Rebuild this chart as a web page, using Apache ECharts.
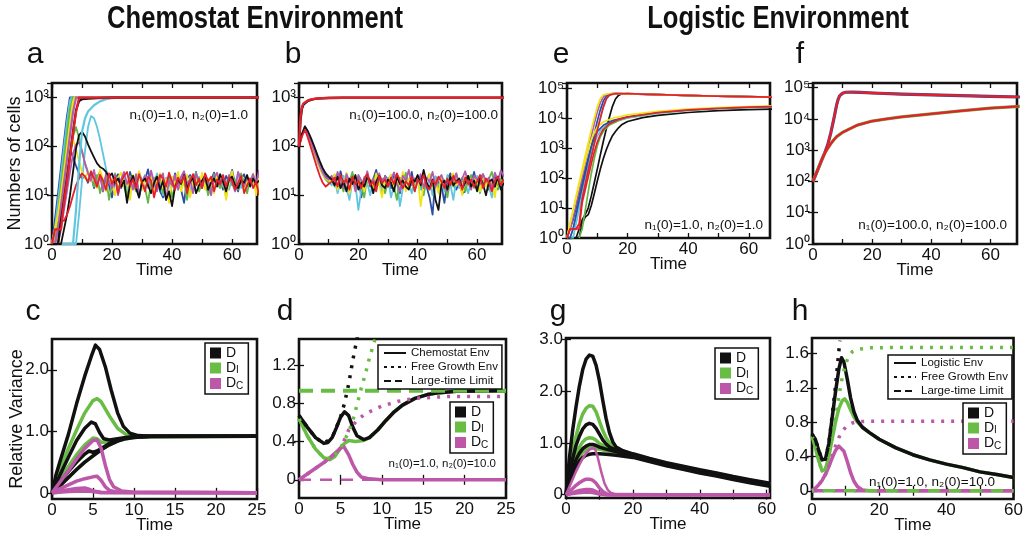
<!DOCTYPE html>
<html>
<head>
<meta charset="utf-8">
<script src="https://cdn.jsdelivr.net/npm/echarts@6/dist/echarts.min.js"></script>
<style>
  html, body { margin: 0; padding: 0; background: #fff; }
  #chart { width: 1026px; height: 535px; }
</style>
</head>
<body>
<div id="chart"></div>
<script>
// ---- panel a : chemostat, n1(0)=n2(0)=1, one value per time unit ----
const aBlueNoise = [1,2,4,10,30,70,90,60,40,28,22,
  25,18,28,14,20,31,12,24,16,9,22,27,14,19,12,30,18,25,10,16,21,34,15,19,26,12,9,18,24,15,28,20,13,7,22,26,18,30,14,17,24,11,20,29,16,21,13,25,19,33,17,12,22,27,15,20,24,18,21];
const aGreenNoise = [1,1,2,5,12,30,70,160,250,150,80,45,30,
  22,15,26,11,19,24,8,17,28,13,21,16,9,25,18,12,30,20,14,7,19,23,15,27,11,18,22,9,16,26,13,20,8,24,17,29,12,19,23,10,15,27,18,14,21,9,25,16,20,13,28,17,11,22,19,15,24];
const aYellowNoise = [1,1,3,8,20,50,110,140,90,50,30,22,
  30,19,24,14,33,21,12,27,17,10,23,29,15,20,8,26,18,31,13,22,16,25,11,19,28,14,21,7,24,17,30,12,20,26,9,18,23,15,29,13,22,19,11,27,16,24,8,20,31,14,18,25,12,21,17,28,10,23];
const aMagentaNoise = [1,1,1,2,5,12,30,70,110,120,80,45,28,
  20,33,16,24,12,28,19,14,26,10,21,30,17,23,13,27,9,19,25,15,32,18,12,22,28,8,20,16,26,13,24,31,17,21,11,27,19,14,25,20,10,23,29,16,22,13,26,18,12,30,21,15,24,19,27,17,33];
const aBlackNoise = [1,1,1,1,2,4,10,30,90,170,200,160,110,80,60,45,38,35,
  30,24,28,18,22,15,20,7,17,25,14,9,19,22,16,11,18,24,13,20,8,12,6,15,21,17,26,14,19,23,11,16,20,25,13,18,22,15,27,19,12,21,24,16,14,20,18,26,15,22,17,20];
const aRedNoise = [1,1,1,3,3,4,6,10,16,22,28,
  24,19,31,22,15,26,20,13,28,17,23,11,19,25,30,16,21,14,27,18,12,24,20,9,17,26,22,15,29,19,13,23,18,25,11,20,27,16,22,14,28,19,24,12,21,17,26,15,23,20,13,18,25,11,16,22,14,19,10];
const aCyanNoise = [1,1,1,1,1,1,1,1,1,4,20,80,250,420,380,250,140,70,35,20,15,
  22,13,18,27,11,20,16,24,9,19,26,14,21,12,28,17,10,23,19,15,25,13,20,29,16,11,22,18,24,14,27,19,12,21,17,25,15,20,13,23,18,28,14,22,16,19,24,12,20];

const aBlueSat = [[0,1],[1,3],[2,10],[3,35],[4,120],[5,400],[6,1000],[70,1000]];
const aCyanSat = [[0,1],[1,2],[2,7],[3,25],[4,90],[5,300],[6,850],[6.5,1000],[70,1000]];
const aGreenSat = [[0,1],[1,1],[2,4],[3,14],[4,50],[5,170],[6,550],[7,1000],[70,1000]];
const aYellowSat = [[0,1],[1,2],[2,4],[3,10],[4,30],[5,90],[6,280],[7,800],[7.5,1000],[70,1000]];
const aMagentaSat = [[0,1],[1,1],[2,2],[3,6],[4,18],[5,55],[6,170],[7,500],[8,1000],[70,1000]];
const aBlackSat = [[0,1],[1,1],[2,1],[3,3],[4,8],[5,22],[6,65],[7,200],[8,550],[9,850],[10,930],[12,960],[15,980],[20,1000],[70,1000]];
const aRedSat = [[0,1],[1,2],[2,2],[3,2],[3.5,4],[4,7],[5,20],[6,60],[7,180],[8,500],[9,1000],[70,1000]];
const aCyanSlow = [[7,1],[8,5],[9,40],[10,200],[11,380],[12,520],[14,700],[16,840],[18,930],[20,980],[22,1000],[70,1000]];

// ---- panel b : chemostat, n1(0)=n2(0)=100 ----
const bBlueNoise = [100,180,260,200,140,95,65,45,32,25,22,
  20,26,14,31,18,22,12,27,16,24,9,19,28,15,21,33,17,12,25,20,14,29,18,11,23,26,16,30,13,19,22,27,15,9,4,24,18,16,7,21,28,17,13,19,11,12,25,18,30,15,22,27,17,13,20,24,16,21,19];
const bCyanNoise = [100,170,240,180,120,80,55,38,28,22,19,
  16,22,11,19,25,14,8,20,17,5,13,24,18,10,21,15,27,12,19,23,9,16,20,6,14,25,18,11,22,17,13,28,16,20,10,24,15,19,12,26,17,8,21,14,23,18,11,20,16,25,13,19,22,15,9,18,24,14,20];
const bGreenNoise = [100,165,230,170,115,78,52,36,27,21,18,
  23,15,28,18,12,24,19,30,14,21,17,9,25,20,13,27,16,22,11,19,26,15,8,23,18,29,14,20,12,24,17,10,22,27,16,19,13,25,18,9,21,15,28,17,23,12,20,26,14,19,11,24,17,22,30,16,13,21,18];
const bYellowNoise = [100,170,235,175,118,80,54,37,27,22,20,
  19,27,13,22,16,29,11,20,25,15,18,12,24,21,14,28,17,9,23,19,26,13,20,16,30,12,22,18,14,25,6,17,21,27,15,19,11,24,18,13,22,28,16,20,10,25,17,14,23,19,12,27,15,21,18,9,24,16,20];
const bMagentaNoise = [100,175,245,185,125,85,58,40,29,23,21,
  25,18,30,21,14,27,19,23,12,26,20,16,31,17,22,13,28,19,24,15,21,29,17,12,25,20,33,16,22,18,27,14,23,19,30,15,21,26,17,12,24,20,28,16,22,31,18,13,25,21,17,27,19,23,14,29,20,32,24];
const bBlackNoise = [100,180,255,205,150,105,72,50,36,28,24,
  21,16,24,14,19,12,22,17,26,13,18,15,23,20,11,19,25,16,14,21,18,12,24,17,20,15,13,22,19,26,16,33,18,14,21,8,5,17,20,13,24,16,19,22,14,18,25,15,20,12,23,17,10,19,21,15,24,13,18];
const bRedNoise = [100,160,220,150,95,60,38,25,18,15,17,
  19,23,15,26,18,21,13,24,17,20,14,22,27,16,19,12,25,18,21,15,23,17,28,20,14,19,16,24,12,21,18,26,15,13,20,17,24,19,14,22,16,25,18,20,13,23,17,21,15,19,26,14,22,18,12,20,24,16,21];
const bBlackSat = [[0,100],[0.5,350],[1,600],[1.5,720],[2,790],[3,860],[4,905],[5,935],[6,955],[8,975],[10,988],[15,1000],[70,1000]];
const bRedSat = [[0,100],[0.5,400],[1,650],[1.5,760],[2,820],[3,880],[4,920],[5,945],[6,960],[8,980],[10,990],[15,1000],[70,1000]];

// ---- panel e : logistic, n1(0)=n2(0)=1 ----
const eUpYellow = [[0,1],[1,3],[2,8],[3,25],[4,70],[5,200],[6,550],[7,1500],[8,4000],[9,10000],[10,24000],[11,45000],[12,60000],[14,67000],[18,66000],[30,61000],[45,56000],[70,50000]];
const eUpMagenta = [[0,1],[1,2],[2,5],[3,14],[4,40],[5,110],[6,320],[7,900],[8,2500],[9,6500],[10,16000],[11,33000],[12,52000],[13,62000],[15,67000],[20,65000],[30,61000],[45,56000],[70,50000]];
const eUpRed = [[0,1],[1,2],[2,2],[3,2],[4,3],[5,20],[6,60],[7,180],[8,500],[9,1400],[10,4000],[11,10000],[12,24000],[13,45000],[14,60000],[16,67000],[20,66000],[30,61000],[45,56000],[70,50500]];
const eUpBlue = [[0,1],[1,1],[2,2],[3,6],[4,18],[5,50],[6,140],[7,400],[8,1100],[9,3000],[10,8000],[11,19000],[12,38000],[13,56000],[15,66000],[20,65000],[30,61000],[45,56000],[70,50000]];
const eUpCyan = [[1,1],[2,1],[3,3],[4,9],[5,25],[6,70],[7,200],[8,550],[9,1500],[10,4000],[11,10000],[12,24000],[13,44000],[14,58000],[16,66000],[20,65000],[30,61000],[45,56000],[70,50000]];
const eUpBlack = [[3,1],[4,2],[5,4],[6,6],[7,10],[8,25],[9,70],[10,200],[11,600],[12,1700],[13,4500],[14,11000],[15,25000],[16,44000],[17,58000],[18,64000],[20,66000],[30,61000],[45,56000],[70,50000]];
const eLowYellow = [[0,1],[1,3],[2,8],[3,22],[4,60],[5,150],[6,380],[7,900],[8,1900],[9,3300],[10,5000],[12,7500],[15,10000],[20,13000],[30,17000],[40,20000],[50,22500],[60,24500],[70,26000]];
const eLowRed = [[0,1],[1,2],[2,2],[3,2],[4,2],[5,15],[6,40],[7,110],[8,300],[9,750],[10,1600],[11,2800],[12,4200],[14,6500],[17,9000],[20,11000],[30,15500],[40,19000],[50,21500],[60,23500],[70,25000]];
const eLowCyan = [[1,1],[2,2],[3,5],[4,14],[5,40],[6,100],[7,260],[8,650],[9,1400],[10,2500],[11,3800],[13,6000],[16,8500],[20,10500],[30,15000],[40,18500],[50,21000],[60,23000],[70,24500]];
const eLowGreen = [[4,1],[5,2],[6,8],[7,35],[8,140],[9,450],[10,1200],[11,2400],[12,3700],[14,6000],[17,8300],[20,10300],[30,14800],[40,18300],[50,20800],[60,22800],[70,24300]];
const eLowBlue = [[0,1],[1,2],[2,4],[3,10],[4,28],[5,75],[6,190],[7,480],[8,1100],[9,2200],[10,3600],[12,5800],[15,8400],[20,11200],[30,15500],[40,19000],[50,21500],[60,23500],[70,25000]];
const eLowBlack = [[4,1],[5,3],[6,5],[7,6],[8,12],[9,30],[10,80],[11,200],[12,450],[13,900],[14,1600],[15,2600],[16,3600],[17,4800],[18,6000],[20,7800],[25,10500],[30,12500],[40,15500],[50,18000],[60,19500],[70,20500]];

// ---- panel f : logistic, n1(0)=n2(0)=100 ----
const fUpper = [[0,100],[1,170],[2,290],[3,500],[4,830],[5,1500],[6,3500],[7,9500],[8,28000],[8.5,42000],[9,54000],[10,66000],[11,71000],[13,72000],[16,70000],[20,67000],[30,62000],[40,58000],[50,55000],[60,52000],[70,50000]];
const fLower = [[0,100],[1,170],[2,290],[3,500],[4,800],[5,1150],[6,1600],[7,2100],[8,2700],[10,3700],[12,4600],[15,6300],[20,8500],[25,10000],[30,11500],[40,14500],[50,18000],[60,22000],[70,25000]];

// ---- panel c : relative variance, chemostat ----
const cD1 = [[0,0],[0.5,0.3],[1,0.52],[2,0.95],[3,1.45],[4,1.9],[4.8,2.22],[5.3,2.4],[5.8,2.33],[6.5,2.05],[7.2,1.68],[8,1.3],[8.7,1.08],[9.5,0.97],[10.5,0.93],[12,0.92],[25,0.92]];
const cD2 = [[0,0],[1,0.3],[2,0.58],[3,0.85],[4,1.05],[4.8,1.15],[5.3,1.12],[5.8,0.98],[6.3,0.88],[7,0.86],[8,0.88],[9,0.9],[10,0.91],[25,0.92]];
const cD3 = [[0,0],[1,0.18],[2,0.35],[3,0.5],[4,0.63],[4.5,0.68],[5,0.66],[5.5,0.68],[6,0.72],[7,0.8],[8,0.86],[9,0.89],[10,0.91],[12,0.92],[25,0.92]];
const cD4 = [[0,0],[1,0.12],[2,0.25],[3,0.38],[4,0.5],[5,0.6],[6,0.7],[7,0.78],[8,0.84],[9,0.88],[10,0.9],[12,0.92],[25,0.92]];
const cI1 = [[0,0],[1,0.4],[2,0.72],[3,1.02],[4,1.3],[5,1.5],[5.5,1.53],[6,1.48],[7,1.25],[8,1.05],[9,0.95],[10,0.92],[25,0.92]];
const cI2 = [[0,0],[1,0.22],[2,0.43],[3,0.62],[4,0.78],[5,0.89],[5.5,0.88],[6,0.82],[7,0.83],[8,0.87],[10,0.91],[25,0.92]];
const cC1 = [[0,0],[1,0.18],[2,0.36],[3,0.55],[4,0.72],[5,0.85],[5.5,0.86],[6,0.72],[6.5,0.45],[7,0.22],[7.5,0.1],[8.5,0.03],[10,0.01],[25,0]];
const cC2 = [[0,0],[1,0.07],[2,0.13],[3,0.19],[4,0.23],[5,0.26],[5.5,0.27],[6,0.2],[6.5,0.1],[7,0.04],[8,0.01],[25,0]];
const cC3 = [[0,0],[1,0.03],[2,0.05],[3,0.07],[4,0.08],[4.5,0.06],[5,0.03],[6,0.01],[25,0]];
const cC4 = [[0,0],[2,0.02],[4,0.03],[5,0.02],[6,0],[25,0]];

// ---- panel d : chemostat vs free growth, n1(0)=1, n2(0)=10 ----
const dD = [[0,0.67],[1,0.55],[2,0.44],[3,0.38],[3.5,0.39],[4,0.44],[4.5,0.54],[5,0.65],[5.5,0.71],[6,0.67],[6.5,0.55],[7,0.46],[7.8,0.42],[8.5,0.44],[9.5,0.52],[10.5,0.62],[11.5,0.71],[12.5,0.78],[14,0.85],[15.5,0.89],[17,0.91],[19,0.925],[25,0.93]];
const dI = [[0,0.64],[1,0.46],[2,0.32],[3,0.23],[3.7,0.21],[4.3,0.24],[5,0.33],[5.5,0.38],[6,0.41],[6.8,0.4],[7.8,0.41],[8.5,0.44],[9.5,0.52],[10.5,0.62],[11.5,0.71],[12.5,0.78],[14,0.85],[15.5,0.89],[17,0.91],[19,0.925],[25,0.93]];
const dC = [[0,0],[1,0.06],[2,0.12],[3,0.18],[4,0.25],[5,0.33],[5.4,0.35],[6,0.26],[6.5,0.16],[7,0.08],[7.5,0.03],[8.5,0.01],[10,0],[25,0]];
const dDfree = [[0,0.67],[1,0.55],[2,0.44],[3,0.38],[4,0.44],[5,0.65],[5.5,0.8],[6,1.0],[6.5,1.25],[7,1.47],[7.3,1.6]];
const dIfree = [[0,0.64],[1,0.46],[2,0.32],[3,0.23],[4,0.22],[5,0.33],[6,0.5],[6.5,0.62],[7,0.78],[7.5,0.95],[8,1.1],[8.5,1.27],[9.2,1.47],[9.5,1.55]];
const dCfree = [[0,0],[1,0.06],[2,0.12],[3,0.18],[4,0.25],[5,0.33],[5.5,0.42],[6,0.52],[7,0.62],[8,0.69],[9,0.73],[10,0.77],[12,0.82],[14,0.85],[16,0.86],[18,0.87],[25,0.87]];
const dLimitI = [[0,0.93],[25,0.93]];
const dLimitC = [[0,0],[25,0]];

// ---- panel g : relative variance, logistic ----
const gD1 = [[0,0],[1,0.7],[2,1.25],[3,1.7],[4,2.1],[5,2.42],[6,2.62],[7,2.7],[8,2.68],[9,2.5],[10,2.2],[11,1.82],[12,1.47],[13,1.2],[14,1.02],[15,0.92],[17,0.85],[20,0.79],[25,0.7],[30,0.62],[35,0.55],[40,0.48],[45,0.42],[50,0.35],[55,0.29],[61,0.22]];
const gD2 = [[0,0],[1,0.4],[2,0.7],[3,0.95],[4,1.13],[5,1.27],[6,1.35],[7,1.38],[8,1.36],[9,1.28],[10,1.17],[11,1.06],[12,0.98],[13,0.92],[15,0.86],[17,0.82],[20,0.77],[25,0.68],[30,0.6],[35,0.53],[40,0.46],[45,0.4],[50,0.33],[55,0.27],[61,0.2]];
const gD3 = [[0,0],[1,0.28],[2,0.5],[3,0.68],[4,0.8],[5,0.89],[6,0.94],[7,0.97],[8,0.97],[9,0.95],[10,0.92],[12,0.88],[15,0.83],[17,0.8],[20,0.75],[25,0.66],[30,0.58],[35,0.51],[40,0.44],[45,0.38],[50,0.31],[55,0.25],[61,0.18]];
const gD4 = [[0,0],[1,0.22],[2,0.4],[3,0.55],[4,0.65],[5,0.72],[6,0.76],[7,0.78],[8,0.79],[10,0.79],[12,0.78],[15,0.76],[20,0.72],[25,0.64],[30,0.56],[35,0.49],[40,0.42],[45,0.36],[50,0.29],[55,0.23],[61,0.16]];
const gI1 = [[0,0],[1,0.45],[2,0.82],[3,1.13],[4,1.38],[5,1.56],[6,1.67],[7,1.72],[8,1.71],[9,1.6],[10,1.42],[11,1.24],[12,1.1],[13,1.0],[14,0.94],[15,0.9],[17,0.84],[20,0.78],[25,0.69],[30,0.61],[35,0.54],[40,0.47],[45,0.41],[50,0.34],[55,0.28],[61,0.21]];
const gI2 = [[0,0],[1,0.32],[2,0.57],[3,0.77],[4,0.92],[5,1.02],[6,1.08],[7,1.1],[8,1.09],[9,1.05],[10,0.99],[12,0.92],[15,0.85],[20,0.76],[25,0.67],[30,0.59],[35,0.52],[40,0.45],[45,0.39],[50,0.32],[55,0.26],[61,0.19]];
const gI3 = [[0,0],[1,0.25],[2,0.45],[3,0.62],[4,0.74],[5,0.82],[6,0.87],[7,0.9],[8,0.9],[10,0.88],[12,0.85],[15,0.82],[20,0.74],[25,0.65],[30,0.57],[35,0.5],[40,0.43],[45,0.37],[50,0.3],[55,0.24],[61,0.17]];
const gC1 = [[0,0],[1,0.15],[2,0.3],[3,0.45],[4,0.58],[5,0.7],[6,0.8],[7,0.87],[8,0.9],[8.7,0.88],[9.5,0.72],[10.5,0.45],[11.5,0.22],[12.5,0.09],[13.5,0.03],[15,0.01],[61,0]];
const gC2 = [[0,0],[1,0.06],[2,0.12],[3,0.18],[4,0.23],[5,0.27],[6,0.3],[7,0.3],[8,0.28],[9,0.22],[10,0.13],[11,0.06],[12,0.02],[13,0],[61,0]];
const gC3 = [[0,0],[2,0.04],[4,0.08],[6,0.1],[7,0.1],[8,0.09],[9,0.06],[10,0.03],[11,0.01],[12,0],[61,0]];
const gC4 = [[0,0],[3,0.03],[6,0.05],[8,0.04],[10,0.01],[12,0],[61,0]];

// ---- panel h : logistic vs free growth, n1(0)=1, n2(0)=10 ----
const hD = [[0,0.66],[1,0.6],[2,0.47],[3,0.36],[3.5,0.34],[4,0.37],[5,0.55],[6,0.85],[7,1.15],[8,1.42],[8.8,1.55],[9.5,1.5],[10.5,1.3],[11.5,1.08],[12.5,0.92],[13.5,0.82],[15,0.74],[17,0.68],[20,0.6],[25,0.5],[30,0.42],[35,0.36],[40,0.31],[45,0.27],[50,0.22],[55,0.19],[60,0.155]];
const hI = [[0,0.64],[1,0.5],[2,0.35],[3,0.23],[3.5,0.21],[4,0.25],[5,0.4],[6,0.6],[7,0.8],[8,0.96],[9,1.05],[9.7,1.07],[10.5,1.03],[11.5,0.94],[12.5,0.86],[13.5,0.8],[15,0.74],[17,0.68],[20,0.6],[25,0.5],[30,0.42],[35,0.36],[40,0.31],[45,0.27],[50,0.22],[55,0.19],[60,0.155]];
const hC = [[0,0],[1,0.03],[2,0.07],[3,0.12],[4,0.19],[5,0.28],[6,0.38],[7,0.47],[8,0.52],[8.5,0.52],[9.5,0.46],[10.5,0.34],[11.5,0.21],[12.5,0.11],[13.5,0.05],[15,0.01],[17,0],[60,0]];
const hDfree = [[0,0.66],[1,0.6],[2,0.47],[3,0.36],[4,0.37],[5,0.55],[6,0.88],[7,1.22],[7.8,1.55],[8.3,1.75]];
const hIfree = [[0,0.64],[1,0.5],[2,0.35],[3,0.23],[4,0.25],[5,0.4],[6,0.62],[7,0.86],[8,1.1],[9,1.32],[10,1.48],[11,1.57],[12,1.62],[14,1.65],[17,1.665],[25,1.67],[60,1.67]];
const hCfree = [[0,0],[1,0.03],[2,0.07],[3,0.12],[4,0.19],[5,0.28],[6,0.4],[7,0.52],[8,0.62],[9,0.69],[10,0.74],[11,0.77],[12,0.79],[14,0.805],[17,0.81],[60,0.81]];
const hLimit = [[0,0],[60,0]];

const SUP = ['\u2070','\u00b9','\u00b2','\u00b3','\u2074','\u2075'];
const FONT = "'Liberation Sans', Arial, Helvetica, sans-serif";
const col = {blue:'#2b4ea2', cyan:'#5ec6df', green:'#62b846', yellow:'#f2e414', magenta:'#b35bb0', black:'#111111', red:'#e5202b'};
const GR = '#69bd45', MG = '#bd57a8', BK = '#111111';

var myChart = echarts.init(document.getElementById('chart'));

var grid = [], xAxis = [], yAxis = [], series = [];

function tick(values) {
  return {inside: true, length: 5, lineStyle: {color: BK, width: 1.3}, customValues: values};
}

function addPanel(box, x, y) {
  const g = grid.length;
  grid.push({left: box[0], top: box[1], width: box[2], height: box[3], show: true,
    borderColor: BK, borderWidth: 2.6, backgroundColor: 'transparent'});
  const lab = {color: BK, fontSize: 17, fontFamily: FONT, margin: 3};
  xAxis.push({type: 'value', gridIndex: g, min: 0, max: x.max,
    axisLine: {show: false}, splitLine: {show: false}, axisTick: tick(x.ticks),
    axisLabel: Object.assign({customValues: x.labels}, lab),
    name: 'Time', nameLocation: 'middle', nameGap: 18, nameMoveOverlap: false,
    nameTextStyle: {color: BK, fontSize: 17, fontFamily: FONT}});
  xAxis.push({type: 'value', gridIndex: g, position: 'top', min: 0, max: x.max,
    axisLine: {show: false}, splitLine: {show: false}, axisTick: tick(x.ticks),
    axisLabel: {show: false}});
  let yMain, yMirror;
  if (y.log) {
    yMain = {type: 'log', logBase: 10, gridIndex: g, min: 1, max: y.max, interval: 1,
      axisLine: {show: false}, splitLine: {show: false},
      axisTick: {inside: true, length: 5, lineStyle: {color: BK, width: 1.3}},
      axisLabel: Object.assign({showMaxLabel: false, margin: 4,
        formatter: v => '10' + SUP[Math.round(Math.log10(v))]}, lab)};
    yMirror = {type: 'log', logBase: 10, gridIndex: g, position: 'right', min: 1, max: y.max, interval: 1,
      axisLine: {show: false}, splitLine: {show: false},
      axisTick: {inside: true, length: 5, lineStyle: {color: BK, width: 1.3}}, axisLabel: {show: false}};
  } else {
    yMain = {type: 'value', gridIndex: g, min: y.min, max: y.max,
      axisLine: {show: false}, splitLine: {show: false}, axisTick: tick(y.labels),
      axisLabel: Object.assign({customValues: y.labels, margin: 4,
        formatter: v => v === 0 ? '0' : v.toFixed(1)}, lab)};
    yMirror = {type: 'value', gridIndex: g, position: 'right', min: y.min, max: y.max,
      axisLine: {show: false}, splitLine: {show: false}, axisTick: tick(y.labels), axisLabel: {show: false}};
  }
  if (y.name) {
    Object.assign(yMain, {name: y.name, nameLocation: 'middle', nameGap: y.gap, nameMoveOverlap: false,
      nameTextStyle: {color: BK, fontSize: 18, fontFamily: FONT}});
  }
  yAxis.push(yMain, yMirror);
  return 2 * g;
}

function line(ax, name, data, color, width, type, offset) {
  series.push({type: 'line', name: name, xAxisIndex: ax, yAxisIndex: ax, data: data,
    color: color, symbol: 'none', showSymbol: false, silent: true, animation: false,
    lineStyle: {color: color, width: width, type: type || 'solid', dashOffset: offset || 0, cap: 'butt', join: 'round'}});
}
const idx = arr => arr.map((v, i) => [i, v]);

const longTicks = [0, 10, 20, 30, 40, 50, 60];
const longLabels = [0, 20, 40, 60];
const shortT = [0, 5, 10, 15, 20, 25];

// a
const axA = addPanel([52, 83, 205, 161], {max: 68.3, ticks: longTicks, labels: longLabels}, {log: true, max: 2000, name: 'Numbers of cells', gap: 28});
[[aBlueNoise, col.blue], [aCyanNoise, col.cyan], [aGreenNoise, col.green], [aYellowNoise, col.yellow],
 [aMagentaNoise, col.magenta], [aBlackNoise, col.black], [aRedNoise, col.red]]
  .forEach(s => line(axA, 'a', idx(s[0]), s[1], 1.8));
[[aCyanSlow, col.cyan], [aBlueSat, col.blue], [aCyanSat, col.cyan], [aGreenSat, col.green], [aYellowSat, col.yellow],
 [aMagentaSat, col.magenta], [aBlackSat, col.black], [aRedSat, col.red]]
  .forEach(s => line(axA, 'a', s[0], s[1], 2.2));

// b
const axB = addPanel([299, 83, 203, 161], {max: 68.4, ticks: longTicks, labels: longLabels}, {log: true, max: 2000});
[[bBlueNoise, col.blue], [bCyanNoise, col.cyan], [bGreenNoise, col.green], [bYellowNoise, col.yellow],
 [bMagentaNoise, col.magenta], [bBlackNoise, col.black], [bRedNoise, col.red]]
  .forEach(s => line(axB, 'b', idx(s[0]), s[1], 1.8));
line(axB, 'b', bBlackSat, col.black, 2.4);
line(axB, 'b', bRedSat, col.red, 2.4);

// e
const axE = addPanel([567, 83, 203, 155], {max: 67, ticks: longTicks, labels: longLabels}, {log: true, max: 150000});
[[eLowBlack, col.black], [eUpBlack, col.black], [eLowGreen, col.green], [eLowCyan, col.cyan], [eUpCyan, col.cyan],
 [eLowBlue, col.blue], [eUpBlue, col.blue], [eUpMagenta, col.magenta], [eLowYellow, col.yellow], [eUpYellow, col.yellow],
 [eLowRed, col.red], [eUpRed, col.red]]
  .forEach(s => line(axE, 'e', s[0], s[1], 1.7));

// f
const axF = addPanel([813, 83, 204, 161], {max: 69, ticks: longTicks, labels: longLabels}, {log: true, max: 140000});
line(axF, 'f', fUpper, col.blue, 3.2);
line(axF, 'f', fLower, col.green, 3.2);
line(axF, 'f', fUpper, col.red, 2.3);
line(axF, 'f', fLower, col.red, 2.3);

// c
const axC = addPanel([52, 339, 205, 161], {max: 25, ticks: shortT, labels: shortT}, {min: -0.1, max: 2.5, labels: [0, 1, 2], name: 'Relative Variance', gap: 26});
[cI1, cI2].forEach(d => line(axC, 'DI', d, GR, 3.5));
line(axC, 'DI', cD4, GR, 3.5);
[cD1, cD2, cD3, cD4].forEach(d => line(axC, 'D', d, BK, 3.5));
[cC4, cC3, cC2, cC1].forEach(d => line(axC, 'DC', d, MG, 3.5));

// d
const axD = addPanel([299, 339, 207, 159], {max: 25, ticks: shortT, labels: shortT}, {min: -0.19, max: 1.47, labels: [0, 0.4, 0.8, 1.2]});
line(axD, 'Chemostat Env', [], BK, 3);
line(axD, 'Free Growth Env', [], BK, 3, [3, 4]);
line(axD, 'Large-time Limit', [], BK, 3, [7, 4]);
line(axD, 'DC', dLimitC, MG, 2.5, [12, 9]);
line(axD, 'DI', dI, GR, 3.5);
line(axD, 'DC', dC, MG, 3.5);
line(axD, 'D', dD, BK, 3.5);
line(axD, 'DI', dIfree, GR, 3.5, [3, 7]);
line(axD, 'DC', dCfree, MG, 3.5, [3, 7]);
line(axD, 'D', dDfree, BK, 3.5, [3, 7]);
line(axD, 'DI', dLimitI, GR, 4, [14, 8]);

// g
const axG = addPanel([566, 338, 204, 160], {max: 61, ticks: longTicks, labels: longLabels}, {min: -0.065, max: 3.03, labels: [0, 1, 2, 3]});
[gI1, gI2, gI3].forEach(d => line(axG, 'DI', d, GR, 3.5));
[gD1, gD2, gD3, gD4].forEach(d => line(axG, 'D', d, BK, 3.5));
[gC4, gC3, gC2].forEach(d => line(axG, 'DC', d, MG, 3.5));
line(axG, 'DC', gC1, MG, 2.5);

// h
const axH = addPanel([812, 338, 205, 162], {max: 60, ticks: longTicks, labels: longLabels}, {min: -0.096, max: 1.78, labels: [0, 0.4, 0.8, 1.2, 1.6]});
line(axH, 'Logistic Env', [], BK, 3);
line(axH, 'DC', hLimit, MG, 3.5, [12, 9]);
line(axH, 'DI', hI, GR, 3.5);
line(axH, 'DC', hC, MG, 3.5);
line(axH, 'D', hD, BK, 3.5);
line(axH, 'DI', hIfree, GR, 3.5, [3, 7]);
line(axH, 'DC', hCfree, MG, 3.5, [3, 7]);
line(axH, 'D', hDfree, BK, 3.5, [3, 7]);
line(axH, 'DI', hLimit, GR, 3.5, [12, 9], 10);

const subRich = {
  m: {fontSize: 14, lineHeight: 15, fontFamily: FONT, color: BK},
  s: {fontSize: 10, lineHeight: 10, verticalAlign: 'bottom', fontFamily: FONT, color: BK}
};
function dLegend(left, top) {
  return {orient: 'vertical', left: left, top: top, data: ['D', 'DI', 'DC'], icon: 'rect',
    itemWidth: 11, itemHeight: 11, itemGap: 1, padding: [3, 5, 3, 5], selectedMode: false,
    backgroundColor: '#fff', borderColor: BK, borderWidth: 1.5, borderRadius: 0,
    formatter: n => n === 'D' ? '{m|D}' : '{m|D}{s|' + n[1] + '}',
    textStyle: {fontSize: 14, fontFamily: FONT, color: BK, rich: subRich}};
}
function styleLegend(left, top, first) {
  return {orient: 'vertical', left: left, top: top, data: [first, 'Free Growth Env', 'Large-time Limit'],
    itemWidth: 22, itemHeight: 8, itemGap: 2, padding: [2, 4, 2, 5], selectedMode: false,
    itemStyle: {color: 'transparent', borderColor: 'transparent', borderWidth: 0},
    backgroundColor: '#fff', borderColor: BK, borderWidth: 1.5, borderRadius: 0,
    textStyle: {fontSize: 11.5, fontFamily: FONT, color: BK}};
}

function txt(x, y, text, size, extra) {
  return Object.assign({type: 'text', x: x, y: y, silent: true, z: 100,
    style: {text: text, fontSize: size, fontFamily: FONT, fill: BK,
      align: (extra && extra.align) || 'center', verticalAlign: 'middle',
      fontWeight: (extra && extra.bold) ? 'bold' : 'normal'}},
    (extra && extra.scaleX) ? {scaleX: extra.scaleX} : {});
}

var option = {
  animation: false,
  backgroundColor: '#fff',
  grid: grid,
  xAxis: xAxis,
  yAxis: yAxis,
  series: series,
  legend: [dLegend(205, 343), dLegend(450, 402), dLegend(715, 348), dLegend(963, 403),
    styleLegend(378, 345, 'Chemostat Env'), styleLegend(888, 355, 'Logistic Env')],
  graphic: [
    txt(255, 19, 'Chemostat Environment', 32, {bold: true, scaleX: 0.8}),
    txt(778, 19, 'Logistic Environment', 32, {bold: true, scaleX: 0.8}),
    txt(35, 55, 'a', 30), txt(293, 55, 'b', 30), txt(561, 55, 'e', 30), txt(800, 55, 'f', 30),
    txt(33, 312, 'c', 30), txt(285, 312, 'd', 30), txt(558, 312, 'g', 30), txt(800, 312, 'h', 30),
    txt(248, 115, 'n\u2081(0)=1.0, n\u2082(0)=1.0', 13.5, {align: 'right'}),
    txt(498, 115, 'n\u2081(0)=100.0, n\u2082(0)=100.0', 13.5, {align: 'right'}),
    txt(763, 225, 'n\u2081(0)=1.0, n\u2082(0)=1.0', 13.5, {align: 'right'}),
    txt(1007, 225, 'n\u2081(0)=100.0, n\u2082(0)=100.0', 13.5, {align: 'right'}),
    txt(496, 464, 'n\u2081(0)=1.0, n\u2082(0)=10.0', 11.5, {align: 'right'}),
    txt(995, 482, 'n\u2081(0)=1.0, n\u2082(0)=10.0', 13.5, {align: 'right'})
  ]
};

myChart.setOption(option);
</script>
</body>
</html>
